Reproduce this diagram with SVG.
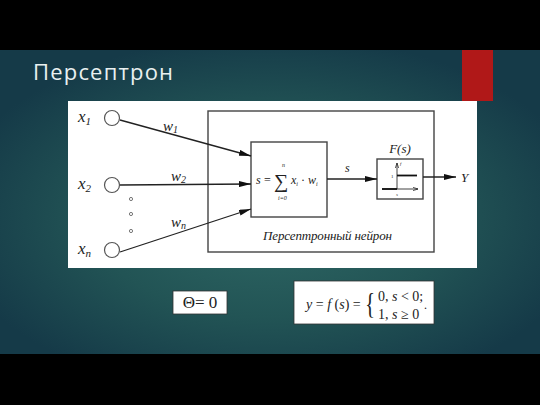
<svg xmlns="http://www.w3.org/2000/svg" width="540" height="405" viewBox="0 0 540 405">
<defs>
<radialGradient id="bg" cx="0.5" cy="0.55" r="0.6">
<stop offset="0" stop-color="#2f6865"/>
<stop offset="0.55" stop-color="#225455"/>
<stop offset="1" stop-color="#153a48"/>
</radialGradient>
<marker id="ah" viewBox="0 0 12 6" refX="12" refY="3" markerWidth="12" markerHeight="6" markerUnits="userSpaceOnUse" orient="auto">
<path d="M0,0 L12,3 L0,6 Z" fill="#111"/>
</marker>
<marker id="sa" viewBox="0 0 6 4" refX="6" refY="2" markerWidth="5" markerHeight="4" markerUnits="userSpaceOnUse" orient="auto">
<path d="M0,0 L6,2 L0,4" fill="none" stroke="#111" stroke-width="0.8"/>
</marker>
<style>
.ln{stroke:#222;stroke-width:1.3;fill:none}
.bx{stroke:#444;stroke-width:1.4;fill:#fff}
.it{font-family:"Liberation Serif",serif;font-style:italic;fill:#222}
.rm{font-family:"Liberation Serif",serif;fill:#222}
.circ{fill:#fff;stroke:#555;stroke-width:1.2}
</style>
</defs>
<rect x="0" y="0" width="540" height="405" fill="#000"/>
<rect x="0" y="50" width="540" height="304" fill="url(#bg)"/>
<rect x="462" y="50" width="31" height="51" fill="#b01818"/>
<text x="33" y="80" font-family="'Open Sans','DejaVu Sans',sans-serif" font-size="22" fill="#e9f0f0" textLength="140">Персептрон</text>

<rect x="68" y="101" width="409" height="167" fill="#fff"/>

<g id="neuron">
<rect x="208" y="111" width="226" height="141" class="bx" fill="none"/>
<text x="263" y="240" class="it" font-size="13" textLength="129">Персептронный нейрон</text>
</g>

<g id="x1"><circle cx="112" cy="118" r="7.5" class="circ"/><text x="78" y="122" class="it" font-size="17">x<tspan font-size="11" dy="3">1</tspan></text></g>
<g id="x2"><circle cx="112" cy="185" r="7.5" class="circ"/><text x="78" y="189" class="it" font-size="17">x<tspan font-size="11" dy="3">2</tspan></text></g>
<g id="xn"><circle cx="112" cy="250" r="7.5" class="circ"/><text x="78" y="254" class="it" font-size="17">x<tspan font-size="11" dy="3">n</tspan></text></g>
<g id="dots" fill="#fff" stroke="#555" stroke-width="0.8">
<circle cx="131" cy="199" r="1.6"/><circle cx="131" cy="214" r="1.6"/><circle cx="131" cy="231" r="1.6"/>
</g>

<g id="sum">
<rect x="251" y="142" width="76" height="75" class="bx"/>
<text x="256" y="184" class="it" font-size="12">s</text>
<text x="264" y="184" class="rm" font-size="12">=</text>
<text x="274" y="188" class="rm" font-size="20">∑</text>
<text x="282" y="167" class="it" font-size="6">n</text>
<text x="278" y="200" class="it" font-size="6">i=0</text>
<text x="291" y="184" class="it" font-size="12">x<tspan font-size="6" dy="2">i</tspan><tspan dy="-2" font-style="normal"> · </tspan>w<tspan font-size="6" dy="2">i</tspan></text>
</g>

<g id="fs">
<rect x="377" y="159" width="46" height="40" class="bx"/>
<text x="400" y="153" class="it" font-size="13" text-anchor="middle">F(s)</text>
<line x1="397" y1="189" x2="397" y2="163" stroke="#111" stroke-width="0.8" marker-end="url(#sa)"/>
<line x1="382" y1="189" x2="418" y2="189" stroke="#111" stroke-width="0.8" marker-end="url(#sa)"/>
<line x1="382" y1="189" x2="397" y2="189" stroke="#111" stroke-width="1.8"/>
<line x1="397" y1="175.5" x2="417" y2="175.5" stroke="#111" stroke-width="1.8"/>
<text x="400" y="165" class="it" font-size="5">f</text>
<text x="391" y="178" class="rm" font-size="5">1</text>
<text x="396" y="196" class="it" font-size="5">s</text>
</g>

<g id="out"><text x="461" y="182" class="it" font-size="13">Y</text></g>

<g id="connectors">
<line x1="120" y1="120" x2="251" y2="156" class="ln" marker-end="url(#ah)"/>
<line x1="120" y1="185" x2="251" y2="184" class="ln" marker-end="url(#ah)"/>
<line x1="120" y1="252" x2="251" y2="209" class="ln" marker-end="url(#ah)"/>
<line x1="327" y1="179" x2="377" y2="179" class="ln" marker-end="url(#ah)"/>
<line x1="423" y1="177" x2="456" y2="177" class="ln" marker-end="url(#ah)"/>
<text x="163" y="131" class="it" font-size="15">w<tspan font-size="10" dy="2">1</tspan></text>
<text x="171" y="181" class="it" font-size="15">w<tspan font-size="10" dy="2">2</tspan></text>
<text x="171" y="227" class="it" font-size="15">w<tspan font-size="10" dy="2">n</tspan></text>
<text x="345" y="172" class="it" font-size="12">s</text>
</g>

<g id="theta">
<rect x="173" y="291" width="54" height="23" fill="#fff" stroke="#333" stroke-width="0.8"/>
<text x="200" y="308" class="rm" font-size="17" text-anchor="middle">Θ= 0</text>
</g>

<g id="formula">
<rect x="294" y="281" width="140" height="43" fill="#fff" stroke="#333" stroke-width="0.8"/>
<text x="306" y="309" class="rm" font-size="14"><tspan font-style="italic">y</tspan> = <tspan font-style="italic">f</tspan> (<tspan font-style="italic">s</tspan>) =</text>
<text x="0" y="0" class="rm" font-size="30" transform="translate(365,313) scale(0.7,1)">{</text>
<text x="378" y="301" class="rm" font-size="14">0, <tspan font-style="italic">s</tspan> &lt; 0;</text>
<text x="378" y="319" class="rm" font-size="14">1, <tspan font-style="italic">s</tspan> ≥ 0</text>
<text x="424" y="309" class="rm" font-size="12">.</text>
</g>
</svg>
